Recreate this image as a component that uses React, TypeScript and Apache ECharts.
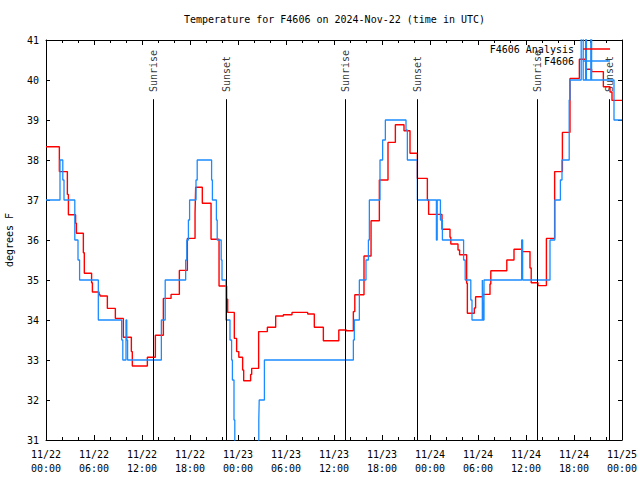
import React, { useEffect, useRef } from "react";
import * as echarts from "echarts";

const TITLE = "Temperature for F4606 on 2024-Nov-22 (time in UTC)";
const Y_NAME = "degrees F";
const FONT = "DejaVu Sans Mono";

// hours since 11/22 00:00 UTC
const redHours = [
  0, 1.67, 2.67, 2.8, 3.7, 3.8, 4.67, 4.79, 5.7, 5.8, 6.63, 6.75, 7.67, 8.67, 9.67, 10.67, 10.79,
  12.67, 13.67, 14.67, 15.63, 16.67, 17.67, 18.63, 18.71, 19.54, 20.63, 21.63, 22.58, 22.71, 23.54,
  23.83, 24.1, 24.58, 24.71, 25.58, 25.71, 26.58, 27.67, 28.71, 29.67, 30.75, 32.71, 33.54, 34.67,
  36.6, 37.54, 38.42, 38.6, 39.75, 40.63, 41.67, 42.75, 43.67, 44.75, 45.5, 46.42, 47.67, 47.83,
  49.5, 50.5, 50.6, 51.5, 51.7, 52.58, 52.67, 53.54, 53.7, 54.6, 55.5, 55.6, 57.6, 58.5, 59.5, 60.5,
  60.65, 61.5, 62.55, 63.58, 64.55, 65.5, 66.67, 67.5, 68.2, 69.67, 70.5, 70.75, 72,
];
const redTemps = [
  38.33, 37.71, 37.14, 36.63, 36.42, 36.17, 35.68, 35.17, 34.93, 34.7, 34.64, 34.6, 34.29, 34.04, 33.57, 33.21, 32.85,
  33.07, 33.62, 34.54, 34.64, 35.24, 36.04, 36.68, 37.32, 36.92, 36.02, 34.85, 34.52, 34.19, 33.54,
  33.21, 33.07, 32.75, 32.48, 32.64, 32.79, 33.71, 33.82, 34.1, 34.13, 34.19, 34.15, 33.82, 33.48,
  33.75, 33.73, 34.21, 34.63, 35.6, 36.48, 37.5, 38.44, 38.88, 38.73, 38.17, 37.54, 37.0, 36.64,
  36.27, 36.07, 35.9, 35.75, 35.63, 34.92, 34.17, 34.3, 34.58, 34.64, 34.9, 35.23, 35.5, 35.77, 35.71, 35.3,
  34.93, 34.86, 36.04, 37.71, 38.69, 40.04, 40.52, 40.27, 40.21, 39.83, 39.7, 39.49, 39.49,
];

const blueHours = [
  0, 1.75, 2.1, 2.25, 3.6, 4.0, 4.2, 6.54, 9.46, 9.6, 10.0, 10.1, 10.2, 14.42, 14.9, 17.46, 17.6, 17.8,
  17.95, 18.75, 18.9, 20.7, 20.8, 21.3, 21.4, 21.9, 22.0, 22.5, 23.0, 23.2, 23.3, 23.5, 23.6, 26.6,
  26.65, 27.3, 38.42, 38.54, 39.17, 40.0, 40.3, 40.42, 41.75, 42.08, 42.42, 45.0, 45.17, 46.42, 48.8,
  48.9, 49.3, 49.55, 52.2, 52.4, 53.1, 53.25, 54.54, 54.62, 54.75, 59.46, 59.58, 63.0, 63.6, 64.3,
  64.5, 65.4, 65.5, 66.9, 67.15, 67.45, 67.55, 68.1, 68.2, 71.0, 72,
];
const blueTemps = [
  37, 38, 37.5, 37, 36, 35.5, 35, 34, 33.5, 33, 34, 33.5, 33, 34, 35, 35.5, 36, 36.5,
  37, 37.5, 38, 37.5, 37, 36.5, 36, 35.5, 35, 34, 33.5, 33, 32.5, 31.5, 30, 31.5,
  32, 33, 33.5, 34, 35, 35.5, 36, 37, 38, 38.5, 39, 38.75, 38, 37, 36,
  37, 36.5, 36, 35.5, 35, 34.5, 34, 35, 34, 35, 36, 35, 36, 37, 37.5,
  38, 39.5, 40, 42, 40, 42, 40, 42, 40, 39, 39,
];

const sunHours = [13.4, 22.54, 37.42, 46.42, 61.42, 70.42];
const sunLabels = ["Sunrise", "Sunset", "Sunrise", "Sunset", "Sunrise", "Sunset"];
const SUN_BOTTOM = 31;
const SUN_TOP = 39.52;
const SUN_LABEL_AT = 39.7;

const X_MIN = 0;
const X_MAX = 72;
const X_STEP = 6;
const Y_MIN = 31;
const Y_MAX = 41;
const Y_STEP = 1;

const RED_NAME = "F4606 Analysis";
const BLUE_NAME = "F4606";

function xLabel(v: number): string {
  const day = 22 + Math.floor(v / 24);
  const hr = Math.round(v % 24);
  return `11/${day}\n${String(hr).padStart(2, "0")}:00`;
}

export default function App() {
  const ref = useRef<HTMLDivElement>(null);
  useEffect(() => {
    if (!ref.current) return;
    const chart = echarts.init(ref.current, undefined, { renderer: "svg" });
    const black = "#000";
    const txt = { fontFamily: FONT, fontSize: 10, color: black };
    const baseX = {
      type: "value",
      min: X_MIN,
      max: X_MAX,
      interval: X_STEP,
      axisLine: { show: true, onZero: false, lineStyle: { color: black, width: 1 } },
      axisTick: { show: true, inside: true, length: 5, lineStyle: { color: black } },
      minorTick: { show: true, splitNumber: 3, length: 3, lineStyle: { color: black } },
      splitLine: { show: false },
    };
    const baseY = {
      type: "value",
      min: Y_MIN,
      max: Y_MAX,
      interval: Y_STEP,
      axisLine: { show: true, onZero: false, lineStyle: { color: black, width: 1 } },
      axisTick: { show: true, inside: true, length: 4, lineStyle: { color: black } },
      splitLine: { show: false },
    };
    const legendBase = {
      orient: "vertical",
      align: "right",
      right: 30,
      padding: 0,
      itemWidth: 27,
      itemHeight: 1.5,
      selectedMode: false,
      textStyle: { ...txt, padding: [0, 4, 0, 0] },
    };
    chart.setOption({
      animation: false,
      textStyle: { fontFamily: FONT },
      title: {
        text: TITLE,
        left: 184,
        top: 14,
        padding: 0,
        textStyle: { ...txt, fontWeight: "normal" },
      },
      legend: [
        { ...legendBase, top: 44, data: [{ name: RED_NAME, icon: "rect" }] },
        { ...legendBase, top: 56, data: [{ name: BLUE_NAME, icon: "rect" }] },
      ],
      grid: { left: 46, right: 18, top: 40, bottom: 40, containLabel: false, outerBoundsMode: "none" },
      xAxis: [
        {
          ...baseX,
          position: "bottom",
          axisLabel: { ...txt, margin: 7, lineHeight: 14, formatter: xLabel },
        },
        { ...baseX, position: "top", axisLabel: { show: false } },
      ],
      yAxis: [
        {
          ...baseY,
          position: "left",
          name: Y_NAME,
          nameLocation: "middle",
          nameGap: 32,
          nameTextStyle: txt,
          axisLabel: { ...txt, margin: 7 },
        },
        { ...baseY, position: "right", axisLabel: { show: false } },
      ],
      series: [
        {
          name: RED_NAME,
          type: "line",
          step: "end",
          showSymbol: false,
          symbol: "none",
          clip: true,
          color: "#ff0000",
          lineStyle: { width: 1.4, color: "#ff0000" },
          data: redHours.map((h, i) => [h, redTemps[i]]),
        },
        {
          name: BLUE_NAME,
          type: "line",
          step: "end",
          showSymbol: false,
          symbol: "none",
          clip: true,
          color: "#1a8cff",
          lineStyle: { width: 1.3, color: "#1a8cff" },
          data: blueHours.map((h, i) => [h, blueTemps[i]]),
        },
        {
          name: "sun",
          type: "scatter",
          symbolSize: 1,
          itemStyle: { color: "rgba(0,0,0,0)" },
          silent: true,
          data: sunHours.map((h) => [h, SUN_LABEL_AT]),
          label: {
            show: true,
            position: "inside",
            rotate: 90,
            align: "left",
            verticalAlign: "middle",
            ...txt,
            formatter: (p: any) => sunLabels[p.dataIndex],
          },
          markLine: {
            silent: true,
            symbol: ["none", "none"],
            label: { show: false },
            lineStyle: { color: black, width: 1, type: "solid" },
            data: sunHours.map((h) => [{ coord: [h, SUN_BOTTOM] }, { coord: [h, SUN_TOP] }]),
          },
        },
      ],
    });
    return () => chart.dispose();
  }, []);
  return (
    <div
      ref={ref}
      style={{ position: "absolute", left: 0, top: 0, width: 640, height: 480, background: "#fff" }}
    />
  );
}
